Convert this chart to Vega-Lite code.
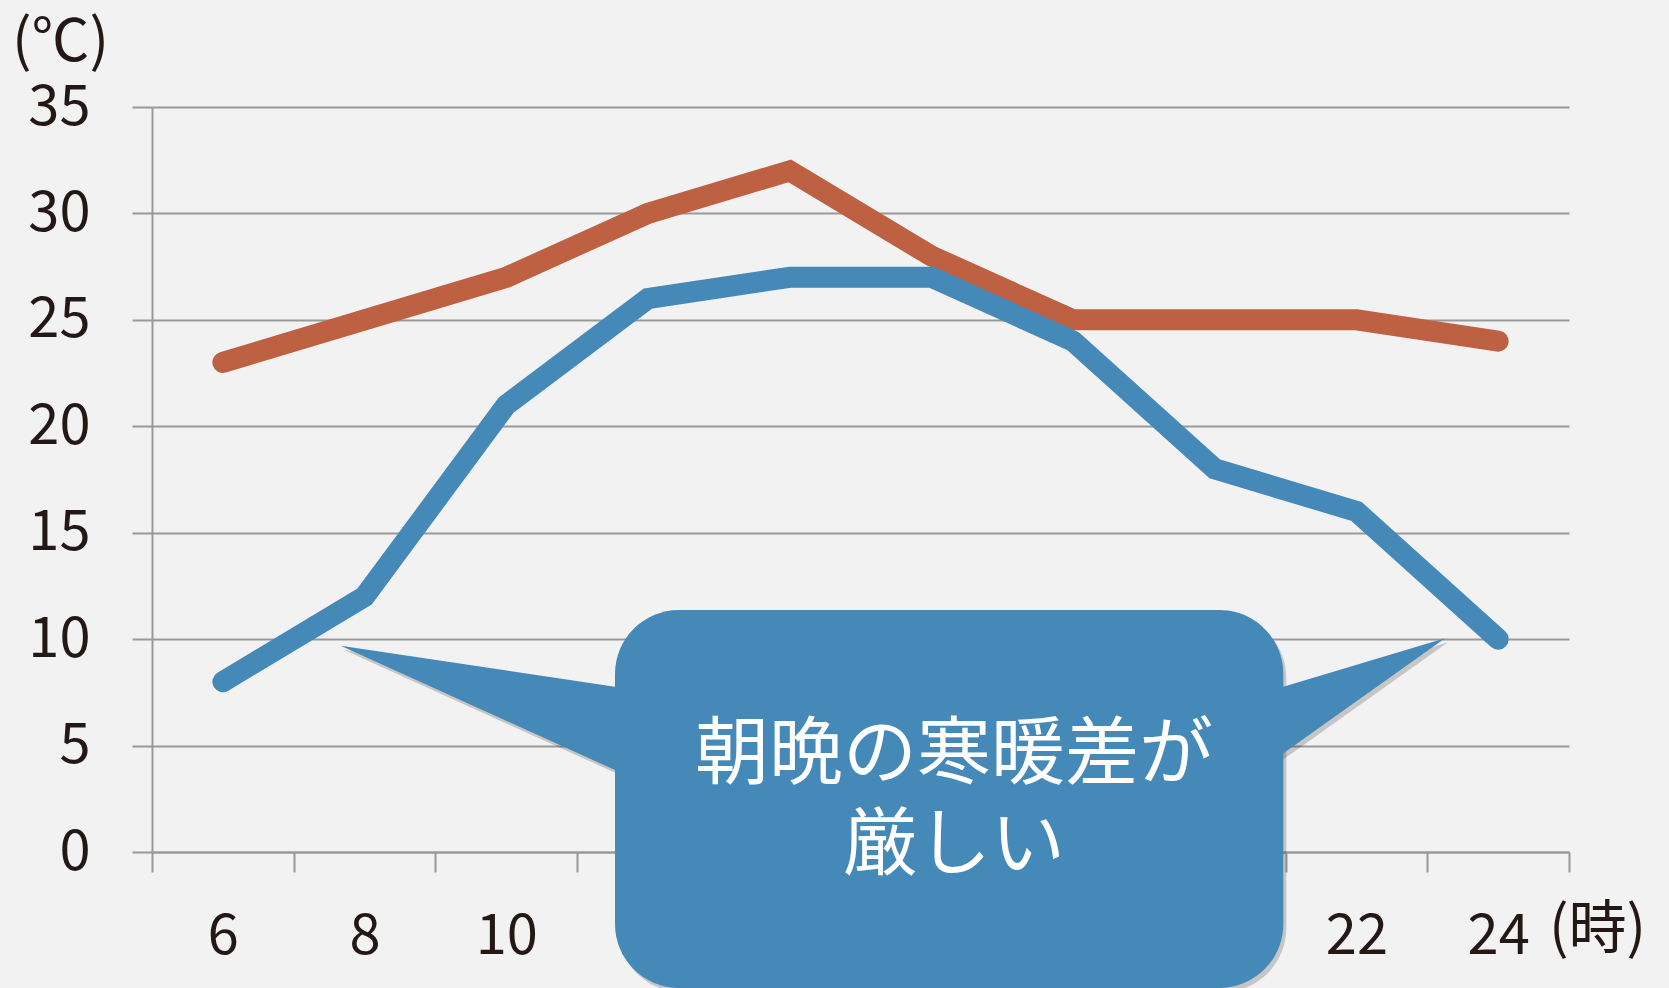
{
  "$schema": "https://vega.github.io/schema/vega-lite/v6.json",
  "width": 1417,
  "height": 745,
  "autosize": {"type": "none"},
  "padding": {"left": 152, "top": 107, "right": 100, "bottom": 136},
  "background": "#F2F2F2",
  "datasets": {
    "temps": [
      {"hour": 6, "temp": 23, "series": "最高気温"},
      {"hour": 8, "temp": 25, "series": "最高気温"},
      {"hour": 10, "temp": 27, "series": "最高気温"},
      {"hour": 12, "temp": 30, "series": "最高気温"},
      {"hour": 14, "temp": 32, "series": "最高気温"},
      {"hour": 16, "temp": 28, "series": "最高気温"},
      {"hour": 18, "temp": 25, "series": "最高気温"},
      {"hour": 20, "temp": 25, "series": "最高気温"},
      {"hour": 22, "temp": 25, "series": "最高気温"},
      {"hour": 24, "temp": 24, "series": "最高気温"},
      {"hour": 6, "temp": 8, "series": "最低気温"},
      {"hour": 8, "temp": 12, "series": "最低気温"},
      {"hour": 10, "temp": 21, "series": "最低気温"},
      {"hour": 12, "temp": 26, "series": "最低気温"},
      {"hour": 14, "temp": 27, "series": "最低気温"},
      {"hour": 16, "temp": 27, "series": "最低気温"},
      {"hour": 18, "temp": 24, "series": "最低気温"},
      {"hour": 20, "temp": 18, "series": "最低気温"},
      {"hour": 22, "temp": 16, "series": "最低気温"},
      {"hour": 24, "temp": 10, "series": "最低気温"}
    ],
    "wedges": [
      {"part": "left", "hour": 7.663, "temp": 9.69, "temp2": 9.69},
      {"part": "left", "hour": 12.5, "temp": 7.284, "temp2": 2.395},
      {"part": "right", "hour": 20.0, "temp": 6.80, "temp2": 2.344},
      {"part": "right", "hour": 23.25, "temp": 10.04, "temp2": 10.04}
    ],
    "wedgeShadows": [
      {"part": "left", "hour": 7.705, "temp": 9.50, "temp2": 9.50},
      {"part": "left", "hour": 12.542, "temp": 7.094, "temp2": 2.205},
      {"part": "right", "hour": 20.042, "temp": 6.61, "temp2": 2.154},
      {"part": "right", "hour": 23.292, "temp": 9.85, "temp2": 9.85}
    ]
  },
  "config": {
    "view": {"stroke": null},
    "font": "Noto Sans CJK JP",
    "axis": {
      "domainColor": "#999999",
      "domainWidth": 2,
      "tickColor": "#999999",
      "tickWidth": 2,
      "tickSize": 20,
      "gridColor": "#999999",
      "gridWidth": 2,
      "labelColor": "#231815",
      "titleColor": "#231815",
      "labelFont": "Noto Sans CJK JP",
      "titleFont": "Noto Sans CJK JP",
      "labelFontSize": 56,
      "titleFontSize": 58,
      "titleFontWeight": "normal"
    }
  },
  "layer": [
    {
      "data": {"name": "temps"},
      "transform": [{"filter": "datum.series === '最高気温'"}],
      "mark": {"type": "line", "color": "#BE6143", "strokeWidth": 21, "strokeCap": "round", "strokeJoin": "miter"},
      "encoding": {
        "x": {
          "field": "hour", "type": "quantitative",
          "scale": {"domain": [5, 25], "nice": false, "zero": false},
          "axis": {
            "values": [5, 6, 7, 8, 9, 10, 11, 12, 13, 14, 15, 16, 17, 18, 19, 20, 21, 22, 23, 24, 25],
            "grid": false,
            "format": "d",
            "labelExpr": "datum.value % 2 === 0 ? format(datum.value, 'd') : ''",
            "tickOpacity": {"condition": {"test": "datum.value % 2 === 0", "value": 0}, "value": 1},
            "labelPadding": 37,
            "labelFlush": false,
            "labelOverlap": false,
            "title": "(時)",
            "titleAngle": 0,
            "titleX": 1445,
            "titleY": 78,
            "titleAlign": "center",
            "titleBaseline": "middle"
          }
        },
        "y": {
          "field": "temp", "type": "quantitative",
          "scale": {"domain": [0, 35], "nice": false, "zero": false},
          "axis": {
            "values": [0, 5, 10, 15, 20, 25, 30, 35],
            "grid": true,
            "format": "d",
            "labelPadding": 42,
            "title": "(℃)",
            "titleAngle": 0,
            "titleX": -92,
            "titleY": -64,
            "titleAlign": "center",
            "titleBaseline": "middle"
          }
        }
      }
    },
    {
      "data": {"name": "temps"},
      "transform": [{"filter": "datum.series === '最低気温'"}],
      "mark": {"type": "line", "color": "#4589B9", "strokeWidth": 21, "strokeCap": "round", "strokeJoin": "miter"},
      "encoding": {
        "x": {"field": "hour", "type": "quantitative", "scale": {"domain": [5, 25], "nice": false, "zero": false}},
        "y": {"field": "temp", "type": "quantitative", "scale": {"domain": [0, 35], "nice": false, "zero": false}}
      }
    },
    {
      "data": {"name": "wedgeShadows"},
      "mark": {"type": "area", "color": "#000000", "opacity": 0.18, "orient": "vertical"},
      "encoding": {
        "x": {"field": "hour", "type": "quantitative", "scale": {"domain": [5, 25], "nice": false, "zero": false}},
        "y": {"field": "temp", "type": "quantitative", "stack": null, "scale": {"domain": [0, 35], "nice": false, "zero": false}},
        "y2": {"field": "temp2"},
        "detail": {"field": "part"}
      }
    },
    {
      "data": {"values": [{}]},
      "mark": {"type": "rect", "color": "#000000", "opacity": 0.18, "cornerRadius": 64},
      "encoding": {
        "x": {"datum": 11.577, "type": "quantitative", "scale": {"domain": [5, 25], "nice": false, "zero": false}},
        "x2": {"datum": 21.01},
        "y": {"datum": 11.18, "type": "quantitative", "scale": {"domain": [0, 35], "nice": false, "zero": false}},
        "y2": {"datum": -6.58}
      }
    },
    {
      "data": {"name": "wedges"},
      "mark": {"type": "area", "color": "#4589B9", "orient": "vertical"},
      "encoding": {
        "x": {"field": "hour", "type": "quantitative", "scale": {"domain": [5, 25], "nice": false, "zero": false}},
        "y": {"field": "temp", "type": "quantitative", "stack": null, "scale": {"domain": [0, 35], "nice": false, "zero": false}},
        "y2": {"field": "temp2"},
        "detail": {"field": "part"}
      }
    },
    {
      "data": {"values": [{}]},
      "mark": {"type": "rect", "color": "#4589B9", "cornerRadius": 64},
      "encoding": {
        "x": {"datum": 11.535, "type": "quantitative", "scale": {"domain": [5, 25], "nice": false, "zero": false}},
        "x2": {"datum": 20.968},
        "y": {"datum": 11.37, "type": "quantitative", "scale": {"domain": [0, 35], "nice": false, "zero": false}},
        "y2": {"datum": -6.39}
      }
    },
    {
      "data": {"values": [{}]},
      "mark": {"type": "text", "text": ["朝晩の寒暖差が", "厳しい"], "color": "#FFFFFF", "font": "Noto Sans CJK JP", "fontSize": 74, "lineHeight": 91, "align": "center", "baseline": "middle"},
      "encoding": {
        "x": {"datum": 16.32, "type": "quantitative", "scale": {"domain": [5, 25], "nice": false, "zero": false}},
        "y": {"datum": 4.5, "type": "quantitative", "scale": {"domain": [0, 35], "nice": false, "zero": false}}
      }
    }
  ]
}
